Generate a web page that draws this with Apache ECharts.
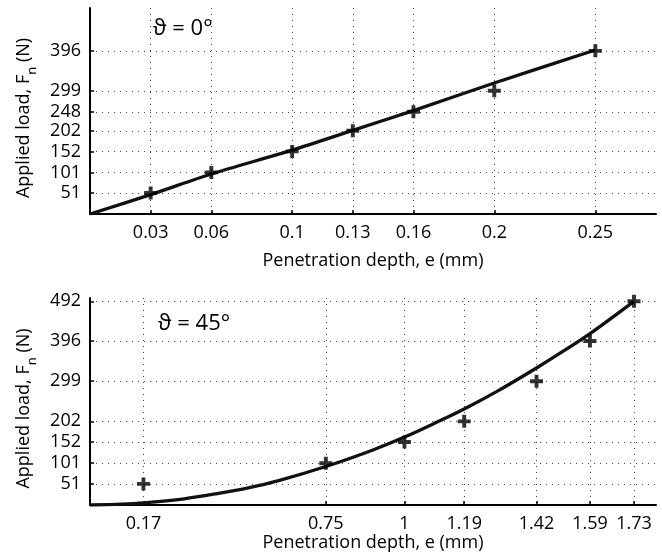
<!DOCTYPE html>
<html>
<head>
<meta charset="utf-8">
<script src="https://cdn.jsdelivr.net/npm/echarts@6/dist/echarts.min.js"></script>
<style>
html,body{margin:0;padding:0;background:#fff;}
#chart{width:662px;height:560px;}
</style>
</head>
<body>
<div id="chart"></div>
<script>
// ---- Data ----
// Top panel: theta = 0 deg
var topTicksX = [0.03, 0.06, 0.1, 0.13, 0.16, 0.2, 0.25];
var topTicksY = [51, 101, 152, 202, 248, 299, 396];
var topMeasE = [0.03, 0.06, 0.1, 0.13, 0.16, 0.2, 0.25];
var topMeasF = [51, 101, 152, 202, 248, 299, 396];
var topFitE = [0, 0.03, 0.06, 0.1, 0.13, 0.16, 0.2, 0.25];
var topFitF = [0, 47, 97, 155, 203, 251, 318, 398];

// Bottom panel: theta = 45 deg
var botTicksX = [0.17, 0.75, 1, 1.19, 1.42, 1.59, 1.73];
var botTicksY = [51, 101, 152, 202, 299, 396, 492];
var botMeasE = [0.17, 0.75, 1, 1.19, 1.42, 1.59, 1.73];
var botMeasF = [51, 101, 152, 202, 299, 396, 492];
var botFitE = [0, 0.1, 0.17, 0.3, 0.4, 0.5, 0.6, 0.75, 0.9, 1, 1.1, 1.19, 1.3, 1.42, 1.5, 1.59, 1.73];
var botFitF = [0, 2, 5, 15, 27, 41, 59, 93, 133, 164, 199, 232, 277, 331, 369, 414, 492];

var xTitle = 'Penetration depth, e (mm)';
var yTitle = 'Applied load, F{sub|n} (N)';
var topLabel = 'ϑ = 0°';
var botLabel = 'ϑ = 45°';

function pairs(xs, ys) { return xs.map(function (x, i) { return [x, ys[i]]; }); }

var FONT = '"Open Sans", sans-serif';
var plusPath = 'path://M3.5,0H6.5V3.5H10V6.5H6.5V10H3.5V6.5H0V3.5H3.5Z';

function xAxisCfg(gridIndex, max, ticks, gap) {
  return {
    type: 'value', gridIndex: gridIndex, min: 0, max: max,
    name: xTitle, nameLocation: 'middle', nameGap: gap,
    nameTextStyle: { fontFamily: FONT, fontSize: 18, color: '#000' },
    axisLine: { show: true, onZero: false, lineStyle: { color: '#000', width: 2 } },
    axisTick: { show: true, inside: true, length: 4, customValues: ticks, lineStyle: { color: '#000', width: 1.5 } },
    axisLabel: { customValues: ticks, margin: 10, fontFamily: FONT, fontSize: 18, color: '#000',
      formatter: function (v) { return String(+v.toFixed(2)); } },
    splitLine: { show: true, lineStyle: { color: '#444', width: 1, type: [1, 5] } }
  };
}
function yAxisCfg(gridIndex, ticks, gap) {
  return {
    type: 'value', gridIndex: gridIndex, min: 0, max: 500,
    name: yTitle, nameLocation: 'middle', nameGap: gap, nameRotate: 90,
    nameTextStyle: { fontFamily: FONT, fontSize: 18, color: '#000', lineHeight: 21, padding: [0, 14, 0, 0],
      rich: { sub: { fontFamily: FONT, fontSize: 13, lineHeight: 31, verticalAlign: 'bottom', color: '#000' } } },
    axisLine: { show: true, onZero: false, lineStyle: { color: '#000', width: 2 } },
    axisTick: { show: true, inside: true, length: 4, customValues: ticks, lineStyle: { color: '#000', width: 1.5 } },
    axisLabel: { customValues: ticks, margin: 9, fontFamily: FONT, fontSize: 18, color: '#000' },
    splitLine: { show: true, lineStyle: { color: '#444', width: 1, type: [1, 5] } }
  };
}

var chart = echarts.init(document.getElementById('chart'), null, { renderer: 'canvas' });
chart.setOption({
  backgroundColor: '#fff',
  animation: false,
  title: [
    { text: topLabel, left: 148, top: 13, textStyle: { fontFamily: FONT, fontSize: 22, fontWeight: 'normal', color: '#000' } },
    { text: botLabel, left: 153, top: 308, textStyle: { fontFamily: FONT, fontSize: 22, fontWeight: 'normal', color: '#000' } }
  ],
  grid: [
    { left: 90, right: 6, top: 8, height: 206, outerBoundsMode: 'none' },
    { left: 90, right: 6, top: 298, height: 207, outerBoundsMode: 'none' }
  ],
  xAxis: [ xAxisCfg(0, 0.28, topTicksX, 38), xAxisCfg(1, 1.8, botTicksX, 29) ],
  yAxis: [ yAxisCfg(0, topTicksY, 48), yAxisCfg(1, botTicksY, 48) ],
  series: [
    { type: 'line', xAxisIndex: 0, yAxisIndex: 0, data: pairs(topFitE, topFitF), smooth: 0.3,
      showSymbol: false, lineStyle: { color: '#111', width: 3.3 }, z: 3 },
    { type: 'scatter', xAxisIndex: 0, yAxisIndex: 0, data: pairs(topMeasE, topMeasF),
      symbol: plusPath, symbolSize: 13, itemStyle: { color: '#000' }, z: 4 },
    { type: 'line', xAxisIndex: 1, yAxisIndex: 1, data: pairs(botFitE, botFitF), smooth: 0.3,
      showSymbol: false, lineStyle: { color: '#111', width: 3.3 }, z: 3 },
    { type: 'scatter', xAxisIndex: 1, yAxisIndex: 1, data: pairs(botMeasE, botMeasF),
      symbol: plusPath, symbolSize: 13, itemStyle: { color: '#000' }, z: 4 }
  ]
});
</script>
</body>
</html>
